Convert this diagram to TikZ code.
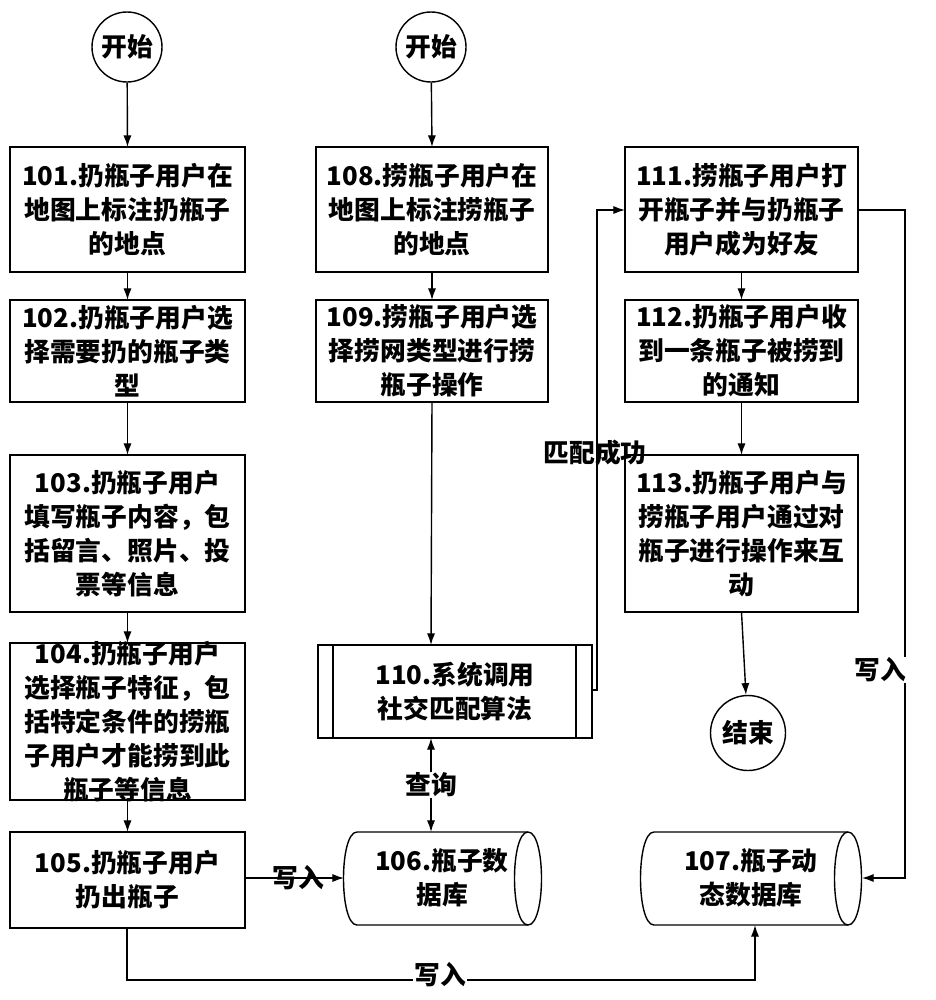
\documentclass[tikz,border=0pt]{standalone}
\usepackage{fontspec}
\setmainfont{Noto Sans CJK SC}
\usetikzlibrary{arrows.meta}
\begin{document}
\begin{tikzpicture}[x=0.03cm,y=-0.03cm,
 font=\bfseries\fontsize{22}{29}\selectfont,
 line width=1.2pt,
 arr/.style={-{Latex[length=10pt,width=7pt]}},
 lab/.style={fill=white,inner sep=1pt}]
\useasboundingbox (0,0) rectangle (936,1000);
% start/end circles
\node[draw,circle,minimum size=2.1cm,inner sep=0] (s1) at (127,47) {开始};
\node[draw,circle,minimum size=2.1cm,inner sep=0] (s2) at (431,47) {开始};
\node[draw,circle,minimum size=2.25cm,inner sep=0] (e) at (748,733) {结束};
% boxes
\newcommand{\bx}[6]{\draw (#2,#3) rectangle (#4,#5); \node[align=center,inner sep=0] (#1) at ({(#2+#4)/2},{(#3+#5)/2}) {#6}; \coordinate (#1t) at ({(#2+#4)/2},#3); \coordinate (#1b) at ({(#2+#4)/2},#5);}
\bx{b101}{10}{147}{245}{272}{101.扔瓶子用户在\\地图上标注扔瓶子\\的地点}
\bx{b102}{10}{300}{245}{402}{102.扔瓶子用户选\\择需要扔的瓶子类\\型}
\bx{b103}{10}{455}{245}{612}{103.扔瓶子用户\\填写瓶子内容，包\\括留言、照片、投\\票等信息}
\bx{b104}{10}{643}{245}{800}{104.扔瓶子用户\\选择瓶子特征，包\\括特定条件的捞瓶\\子用户才能捞到此\\瓶子等信息}
\bx{b105}{10}{832}{245}{928}{105.扔瓶子用户\\扔出瓶子}
\bx{b108}{316}{147}{548}{272}{108.捞瓶子用户在\\地图上标注捞瓶子\\的地点}
\bx{b109}{316}{300}{548}{402}{109.捞瓶子用户选\\择捞网类型进行捞\\瓶子操作}
\bx{b111}{625}{147}{858}{272}{111.捞瓶子用户打\\开瓶子并与扔瓶子\\用户成为好友}
\bx{b112}{625}{300}{858}{402}{112.扔瓶子用户收\\到一条瓶子被捞到\\的通知}
\bx{b113}{625}{455}{858}{612}{113.扔瓶子用户与\\捞瓶子用户通过对\\瓶子进行操作来互\\动}
% predefined process 110
\draw (318,645) rectangle (592,738);
\draw (333,645) -- (333,738) (576,645) -- (576,738);
\node[align=center,inner sep=0] (b110) at (455,692) {110.系统调用\\社交匹配算法};
\coordinate (b110t) at (431,645); \coordinate (b110b) at (431,738);
% databases
\draw (357,832) -- (528,832) .. controls (546,832) and (546,925) .. (528,925) -- (357,925) .. controls (339,925) and (339,832) .. (357,832);
\draw (528,832) .. controls (510,832) and (510,925) .. (528,925);
\node (d106) at (442,878) [align=center,inner sep=0] {106.瓶子数\\据库};
\draw (654,832) -- (848,832) .. controls (866,832) and (866,925) .. (848,925) -- (654,925) .. controls (636,925) and (636,832) .. (654,832);
\draw (848,832) .. controls (830,832) and (830,925) .. (848,925);
\node (d107) at (751,878) [align=center,inner sep=0] {107.瓶子动\\态数据库};
\coordinate (d106l) at (344,878); \coordinate (d106t) at (431,832);
\coordinate (d107r) at (862,878); \coordinate (d107b) at (755,925);
% arrows
\draw[arr] (s1) -- (b101t);
\draw[arr] (b101b) -- (b102t);
\draw[arr] (b102b) -- (b103t);
\draw[arr] (b103b) -- (b104t);
\draw[arr] (b104b) -- (b105t);
\draw[arr] (s2) -- (b108t);
\draw[arr] (b108b) -- (b109t);
\draw[arr] (b109b) -- (b110t);
\draw[arr] (b111b) -- (b112t);
\draw[arr] (b112b) -- (b113t);
\draw[arr] (b113b) -- (e);
\coordinate (c1) at (592,690); \coordinate (c111l) at (625,210);
\draw[arr] (c1) -- (597,690) -- (597,210) -- (c111l);
\node at (595,453) {匹配成功};
\coordinate (c111r) at (858,210);
\draw[arr] (c111r) -- (905,210) -- (905,878) -- (d107r);
\node[lab] at (880,670) {写入};
\coordinate (c105r) at (245,878);
\draw[arr] (c105r) -- (d106l);
\node at (298,878) {写入};
\coordinate (c105b) at (127,928);
\draw[arr] (c105b) -- (127,980) -- (755,980) -- (d107b);
\node[lab] at (440,975) {写入};
\draw[{Latex[length=10pt,width=7pt]}-{Latex[length=10pt,width=7pt]}] (b110b) -- (d106t);
\node[lab] at (431,785) {查询};
\end{tikzpicture}
\end{document}
